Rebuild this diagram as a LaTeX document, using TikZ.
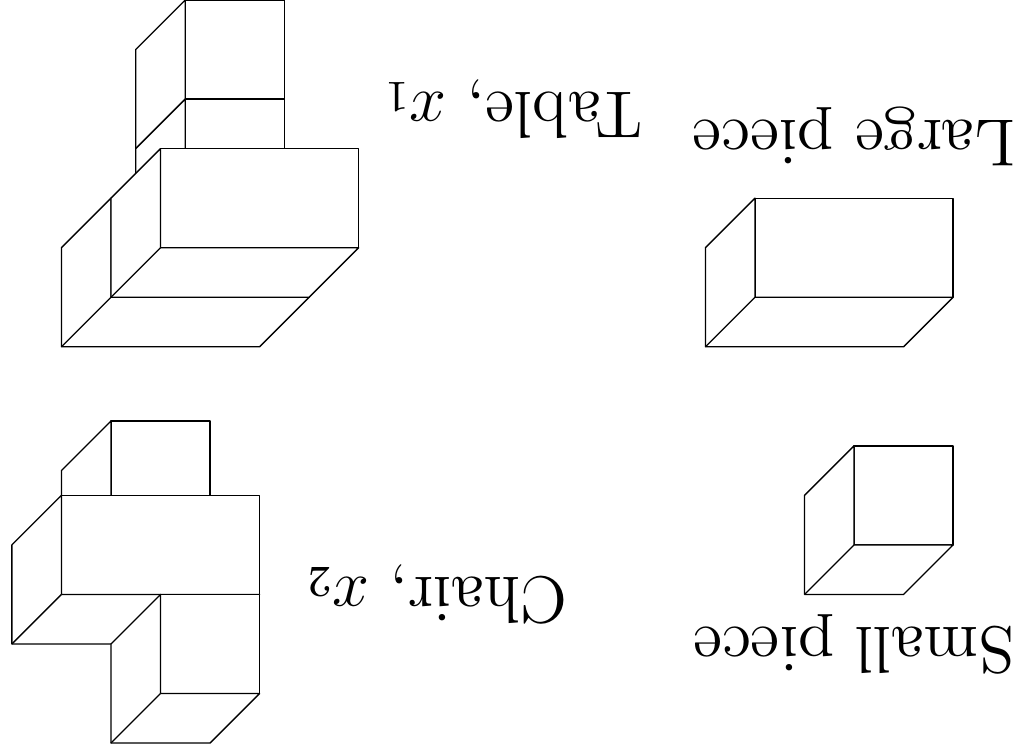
\documentclass[tikz,border=0pt]{standalone}
\usepackage{amsmath}
\tikzset{
    piecebox/.style={draw = black, fill = white, line width=0.75pt, line join=round},
    piecelabel/.style={font=\large, scale=3.18, inner sep=0pt}
}
% face corner (x,y), width, height; depth is always (1,1)
\newcommand{\piecebox}[4]{
    \draw[piecebox] (#1, #2) rectangle ++(#3, #4);
    \draw[piecebox] (#1+#3, #2) -- ++(1, 1) -- ++(0, #4) -- ++(-#3, 0) -- ++(-1, -1) -- ++(#3, 0) -- cycle;
    \draw[piecebox] (#1+#3, #2+#4) -- ++(1, 1);
}

\begin{document}
\begin{tikzpicture}[rotate=180, transform shape]
    \useasboundingbox (-1.33, 0) rectangle (19.24, 15.2);

    % large and small pieces
    \piecebox{0}{4}{4}{2}
    \piecebox{0}{9}{2}{2}
    \node[piecelabel] (large) at (2.0, 2.76) {Large piece};
    \node[piecelabel] (small) at (2.0, 13.0) {Small piece};

    % table
    \foreach \x/\y/\w/\h in {13.5/0/2/2, 13.5/2/2/2, 13/4/4/2, 12/3/4/2}
        \piecebox{\x}{\y}{\w}{\h};
    \node[piecelabel] (table) at (8.89, 2.2) {Table, $x_1$};

    % chair
    \foreach \x/\y/\w/\h in {15/8.5/2/2, 14/10/4/2, 14/12/2/2}
        \piecebox{\x}{\y}{\w}{\h};
    \node[piecelabel] (chair) at (10.43, 12.0) {Chair, $x_2$};
\end{tikzpicture}
\end{document}
